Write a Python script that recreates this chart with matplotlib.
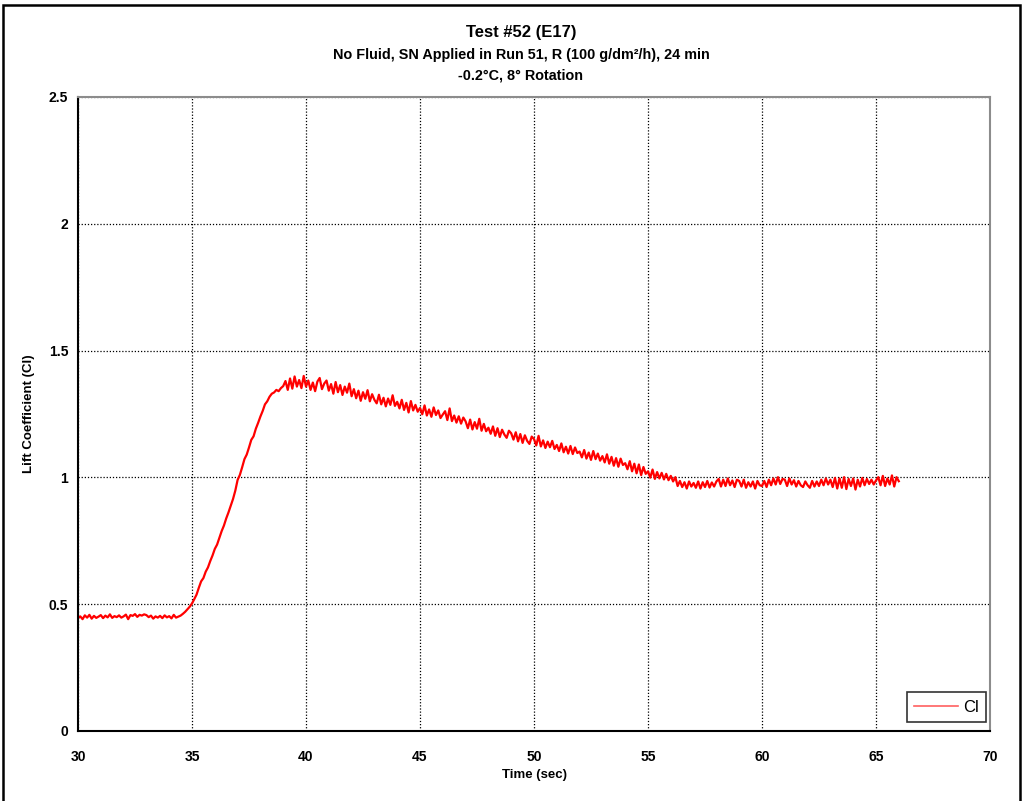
import matplotlib
matplotlib.use("Agg")
import matplotlib.pyplot as plt
from matplotlib.patches import Rectangle
import numpy as np

# Lift coefficient record, sampled every 0.1 s from 30.0 s to 66.0 s
t_start = 30.0
t_step = 0.1
cl_values = [
    0.445, 0.452, 0.441, 0.456, 0.447, 0.458, 0.443, 0.454, 0.446, 0.451,
    0.457, 0.445, 0.455, 0.448, 0.460, 0.446, 0.453, 0.449, 0.456, 0.447,
    0.452, 0.459, 0.441, 0.457, 0.454, 0.461, 0.450, 0.458, 0.455, 0.460,
    0.457, 0.449, 0.455, 0.443, 0.452, 0.447, 0.454, 0.445, 0.456, 0.448,
    0.453, 0.444, 0.458, 0.447, 0.451, 0.455, 0.462, 0.470, 0.480, 0.490,
    0.503, 0.520, 0.538, 0.565, 0.590, 0.603, 0.628, 0.645, 0.670, 0.692,
    0.718, 0.735, 0.762, 0.788, 0.810, 0.838, 0.862, 0.888, 0.915, 0.948,
    0.990, 1.010, 1.040, 1.072, 1.090, 1.118, 1.148, 1.162, 1.192, 1.215,
    1.240, 1.262, 1.288, 1.300, 1.318, 1.330, 1.335, 1.345, 1.340, 1.352,
    1.360, 1.380, 1.345, 1.390, 1.350, 1.398, 1.358, 1.384, 1.352, 1.400,
    1.358, 1.382, 1.345, 1.374, 1.340, 1.378, 1.392, 1.348, 1.370, 1.382,
    1.342, 1.368, 1.330, 1.376, 1.336, 1.364, 1.325, 1.358, 1.334, 1.370,
    1.320, 1.348, 1.312, 1.342, 1.302, 1.336, 1.310, 1.344, 1.300, 1.328,
    1.306, 1.292, 1.326, 1.288, 1.314, 1.280, 1.311, 1.286, 1.324, 1.282,
    1.298, 1.272, 1.306, 1.266, 1.294, 1.256, 1.301, 1.264, 1.286, 1.259,
    1.274, 1.249, 1.284, 1.244, 1.268, 1.239, 1.276, 1.246, 1.264, 1.234,
    1.248, 1.261, 1.226, 1.272, 1.222, 1.244, 1.216, 1.241, 1.212, 1.236,
    1.221, 1.194, 1.228, 1.189, 1.218, 1.192, 1.231, 1.184, 1.211, 1.182,
    1.196, 1.172, 1.201, 1.164, 1.194, 1.159, 1.188, 1.169, 1.156, 1.184,
    1.174, 1.149, 1.178, 1.142, 1.171, 1.136, 1.166, 1.144, 1.132, 1.161,
    1.151, 1.126, 1.164, 1.122, 1.146, 1.116, 1.141, 1.119, 1.144, 1.112,
    1.128, 1.104, 1.134, 1.099, 1.121, 1.094, 1.124, 1.092, 1.118, 1.096,
    1.102, 1.079, 1.108, 1.074, 1.098, 1.069, 1.104, 1.072, 1.094, 1.066,
    1.084, 1.059, 1.091, 1.054, 1.081, 1.046, 1.076, 1.042, 1.074, 1.049,
    1.056, 1.032, 1.064, 1.024, 1.054, 1.016, 1.051, 1.009, 1.041, 1.014,
    1.024, 0.999, 1.031, 0.994, 1.021, 0.996, 1.018, 0.992, 1.014, 0.989,
    1.006, 0.984, 1.001, 0.966, 0.986, 0.962, 0.981, 0.956, 0.984, 0.964,
    0.978, 0.959, 0.984, 0.956, 0.981, 0.962, 0.986, 0.960, 0.980, 0.964,
    0.984, 0.994, 0.964, 0.991, 0.966, 0.996, 0.969, 0.988, 0.962, 0.991,
    0.986, 0.964, 0.991, 0.959, 0.981, 0.964, 0.984, 0.956, 0.986, 0.969,
    0.966, 0.986, 0.962, 0.991, 0.969, 0.996, 0.972, 1.001, 0.974, 0.994,
    0.991, 0.966, 0.996, 0.972, 0.989, 0.964, 0.986, 0.969, 0.962, 0.984,
    0.969, 0.959, 0.986, 0.964, 0.984, 0.966, 0.991, 0.969, 0.996, 0.972,
    0.991, 0.962, 0.998, 0.956, 0.996, 0.959, 1.001, 0.954, 0.994, 0.966,
    0.996, 0.952, 0.991, 0.964, 0.998, 0.969, 0.994, 0.974, 0.991, 0.972,
    0.988, 1.001, 0.969, 1.006, 0.966, 0.996, 0.972, 1.008, 0.964, 1.001,
    0.985,
]
time_s = t_start + t_step * np.arange(len(cl_values))

x_ticks = [30, 35, 40, 45, 50, 55, 60, 65, 70]
y_ticks = [0, 0.5, 1, 1.5, 2, 2.5]
y_tick_labels = ["0", "0.5", "1", "1.5", "2", "2.5"]

title_main = "Test #52 (E17)"
title_sub1 = "No Fluid, SN Applied in Run 51, R (100 g/dm²/h), 24 min"
title_sub2 = "-0.2°C, 8° Rotation"

font = ["Liberation Sans", "DejaVu Sans"]

fig = plt.figure(figsize=(10.24, 8.01), dpi=100)
ax = fig.add_axes([78 / 1024, 1 - 731 / 801, (990 - 78) / 1024, (731 - 97) / 801])

ax.plot(time_s, cl_values, color="#ff0000", linewidth=1.6, label="Cl")

ax.set_xlim(30, 70)
ax.set_ylim(0, 2.5)
ax.set_xticks(x_ticks)
ax.set_yticks(y_ticks)
ax.set_yticklabels(y_tick_labels)
ax.grid(True, color="black", linestyle=(0, (1, 1.5)), linewidth=0.9)
ax.set_axisbelow(True)

for side in ("left", "bottom"):
    ax.spines[side].set_color("black")
    ax.spines[side].set_linewidth(1.5)
for side in ("top", "right"):
    ax.spines[side].set_color("#8c8c8c")
    ax.spines[side].set_linewidth(1.5)

ax.tick_params(axis="x", length=0, pad=14)
ax.tick_params(axis="y", length=0, pad=7)
for lab in ax.get_xticklabels() + ax.get_yticklabels():
    lab.set_fontfamily(font)
    lab.set_fontweight("bold")
    lab.set_fontsize(10)

ax.set_xlabel("Time (sec)", fontfamily=font, fontweight="bold", fontsize=9.5, labelpad=3)
ax.set_ylabel("Lift Coefficient (Cl)", fontfamily=font, fontweight="bold", fontsize=9.5)
ax.yaxis.set_label_coords((35 - 78) / 912, 0.5)

leg = ax.legend(loc="lower right", bbox_to_anchor=(0.9956, 0.0135), frameon=True, fancybox=False,
                prop={"family": font, "size": 12}, handlelength=2.6, borderpad=0.45,
                handletextpad=0.3, borderaxespad=0)
leg.get_frame().set_edgecolor("black")
leg.get_frame().set_linewidth(1.2)
for h in leg.get_lines():
    h.set_color("#ff6060")
    h.set_linewidth(1.2)

cx = 521 / 1024
fig.text(cx, 1 - 32 / 801, title_main, ha="center", va="center",
         fontfamily=font, fontweight="bold", fontsize=12)
fig.text(cx, 1 - 55 / 801, title_sub1, ha="center", va="center",
         fontfamily=font, fontweight="bold", fontsize=10.4)
fig.text(cx, 1 - 75 / 801, title_sub2, ha="center", va="center",
         fontfamily=font, fontweight="bold", fontsize=10.4)

# outer frame of the chart sheet
fig.patches.append(Rectangle((3 / 1024, -0.02), (1020 - 3) / 1024, 1.02 - 5 / 801,
                             transform=fig.transFigure, fill=False,
                             edgecolor="black", linewidth=1.8))

fig.savefig("out.png", dpi=100)
